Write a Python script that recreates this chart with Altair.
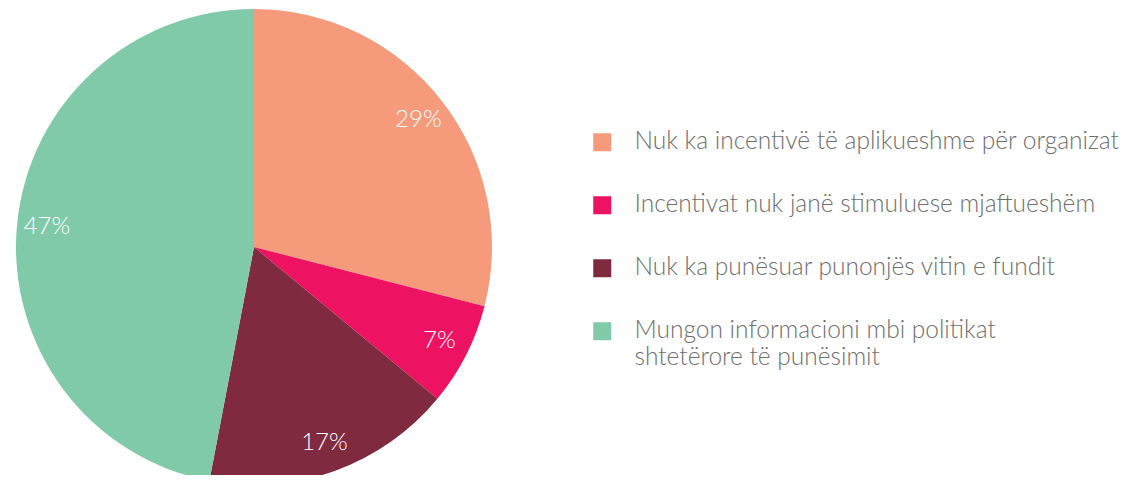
import altair as alt
import pandas as pd

categories = [
    "Nuk ka incentivë  të aplikueshme për organizat",
    "Incentivat nuk janë stimuluese mjaftueshëm",
    "Nuk ka punësuar punonjës vitin e fundit",
    "Mungon informacioni mbi politikat shtetërore të  punësimit",
]
values = [29, 7, 17, 47]
labels = ["29%", "7%", "17%", "47%"]
colors = ["#F59A7B", "#ED1262", "#7F2A3F", "#80C9A9"]

df = pd.DataFrame({"cat": categories, "val": values, "lab": labels, "ord": list(range(len(values)))})

wrap_expr = (
    "datum.label == 'Mungon informacioni mbi politikat shtetërore të  punësimit' "
    "? ['Mungon informacioni mbi politikat', 'shtetërore të  punësimit'] : datum.label"
)

base = alt.Chart(df).encode(
    theta=alt.Theta("val:Q", stack=True),
    order=alt.Order("ord:Q"),
)

pie = base.mark_arc(outerRadius=238, stroke=None).encode(
    x=alt.value(246),
    y=alt.value(239),
    color=alt.Color(
        "cat:N",
        scale=alt.Scale(domain=categories, range=colors),
        sort=categories,
        legend=alt.Legend(
            title=None,
            orient="none",
            legendX=582,
            legendY=122,
            symbolType="square",
            symbolSize=324,
            symbolStrokeWidth=0,
            labelFontSize=24.5,
            labelFont="Lato",
            labelFontWeight=300,
            labelColor="#6E6E6E",
            labelOffset=20,
            labelLimit=600,
            rowPadding=38,
            padding=0,
            labelExpr=wrap_expr,
        ),
    ),
)

text = base.mark_text(
    radius=208, fontSize=24, font="Lato", fontWeight=300, color="white"
).encode(
    x=alt.value(246),
    y=alt.value(239),
    text="lab:N",
)

chart = (
    alt.layer(pie, text)
    .properties(width=1113, height=467, autosize=alt.AutoSizeParams(type="none"), padding=0)
    .configure_view(stroke=None)
)

chart.save("out.html", embed_options={"renderer": "svg", "actions": False})
